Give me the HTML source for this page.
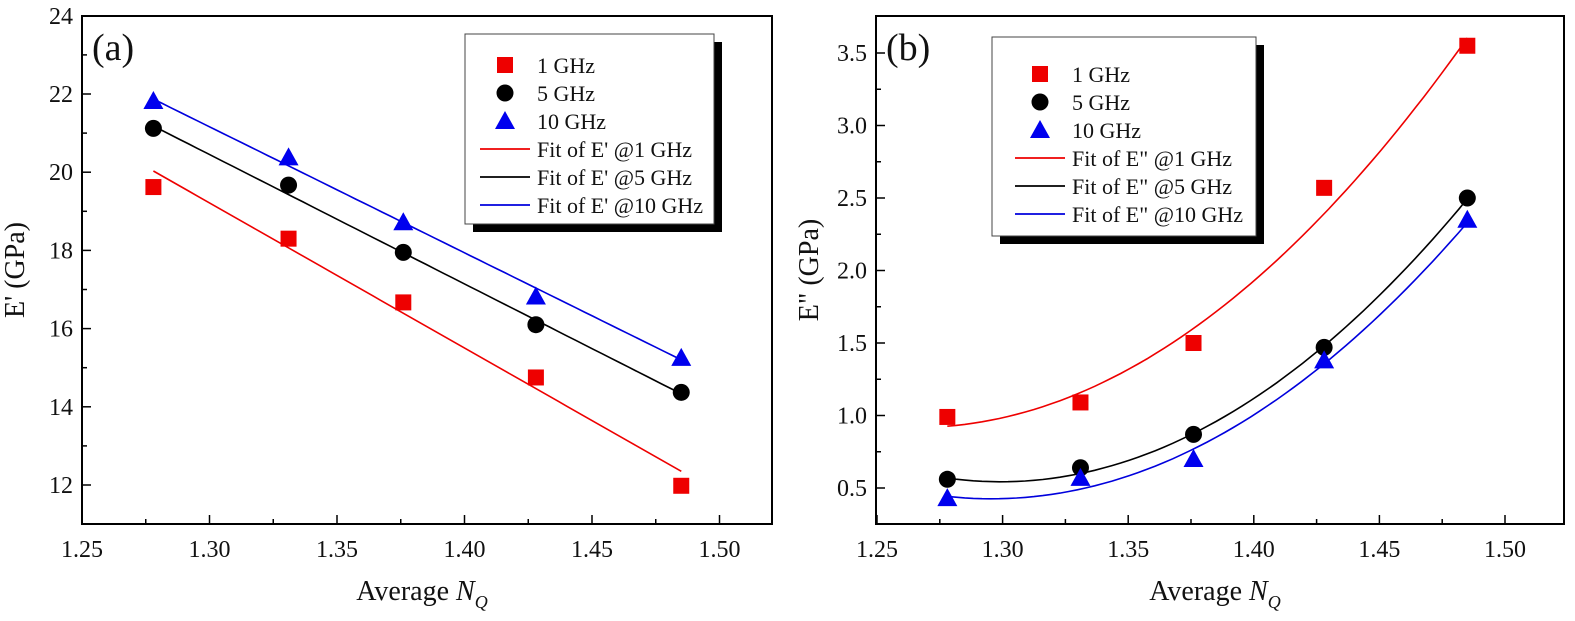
<!DOCTYPE html>
<html><head><meta charset="utf-8"><style>body{margin:0;background:#fff}svg{display:block}text{font-family:"Liberation Serif",serif;fill:#111}</style></head>
<body><svg id="s" width="1575" height="621" xmlns="http://www.w3.org/2000/svg"></svg>
<script>
const S=document.getElementById('s');let h='';
function P(o){
 const X=x=>o.x0+(x-1.25)/0.05*o.px, Y=y=>o.yb-(y-o.ymin)*o.py;
 h+=`<rect x="${o.L}" y="16" width="${o.R-o.L}" height="508" fill="none" stroke="#000" stroke-width="2"/>`;
 for(let i=0;i<=10;i++){const xv=1.25+i*0.025,x=X(xv);if(x<o.L-3||x>o.R)continue;const big=i%2==0;
  h+=`<line x1="${x}" y1="524" x2="${x}" y2="${524-(big?9:5)}" stroke="#000" stroke-width="1.5"/>`;
  if(big)h+=`<text x="${x}" y="557" font-size="24" text-anchor="middle">${xv.toFixed(2)}</text>`;}
 for(let v=o.ymin;v<=o.ymax+1e-9;v+=o.minor){const y=Y(v);if(y<14||y>524)continue;const k=Math.round((v-o.ymin)/o.minor);const big=k%2==0;
  h+=`<line x1="${o.L}" y1="${y}" x2="${o.L+(big?9:5)}" y2="${y}" stroke="#000" stroke-width="1.5"/>`;
  if(big&&v>=o.lab0)h+=`<text x="${o.L-9}" y="${y+8}" font-size="24" text-anchor="end">${v.toFixed(o.dec)}</text>`;}
 h+=`<text x="${(o.L+o.R)/2-5}" y="600" font-size="28" text-anchor="middle">Average <tspan font-style="italic">N</tspan><tspan font-style="italic" font-size="18" dy="8">Q</tspan></text>`;
 h+=`<text transform="translate(${o.L-58},270) rotate(-90)" font-size="28" text-anchor="middle">${o.yl}</text>`;
 h+=`<text x="${o.L+10}" y="60" font-size="38">${o.tag}</text>`;
 const xs=[1.278,1.331,1.376,1.428,1.485],cols=['#e00','#000','#00d'];
 o.fits.forEach((f,i)=>{let d='';for(let t=0;t<=60;t++){const xv=1.278+t*(0.207/60);d+=(t?'L':'M')+X(xv).toFixed(1)+','+Y(f(xv)).toFixed(1);}
  h+=`<path d="${d}" fill="none" stroke="${cols[i]}" stroke-width="1.6"/>`;});
 o.data.forEach((ds,i)=>ds.forEach((v,j)=>{h+=mk(i,X(xs[j]),Y(v));}));
 const g=o.lg;h+=`<rect x="${g.x+8}" y="${g.y+8}" width="${g.w}" height="${g.h}" fill="#000"/><rect x="${g.x}" y="${g.y}" width="${g.w}" height="${g.h}" fill="#fff" stroke="#444" stroke-width="1"/>`;
 const labs=['1 GHz','5 GHz','10 GHz'].concat([1,5,10].map(n=>`Fit of ${o.e} @${n} GHz`));
 labs.forEach((t,i)=>{const y=g.ey+i*28;if(i<3)h+=mk(i,g.mx,y);else h+=`<line x1="${g.mx-25}" y1="${y}" x2="${g.mx+25}" y2="${y}" stroke="${cols[i-3]}" stroke-width="1.8"/>`;
  h+=`<text x="${g.mx+32}" y="${y+8}" font-size="22">${t}</text>`;});
}
function mk(i,x,y){if(i==0)return `<rect x="${x-8}" y="${y-8}" width="16" height="16" fill="#e00"/>`;
 if(i==1)return `<circle cx="${x}" cy="${y}" r="8.5" fill="#000"/>`;
 return `<polygon points="${x},${y-10} ${x+10},${y+8} ${x-10},${y+8}" fill="#00e"/>`;}
function quad(xs,ys){let n=xs.length,S=[0,0,0,0,0],T=[0,0,0];for(let k=0;k<n;k++){const x=xs[k]-1.38;for(let p=0;p<5;p++)S[p]+=x**p;for(let p=0;p<3;p++)T[p]+=ys[k]*x**p;}
 const A=[[S[0],S[1],S[2],T[0]],[S[1],S[2],S[3],T[1]],[S[2],S[3],S[4],T[2]]];
 for(let i=0;i<3;i++){for(let j=i+1;j<3;j++){const f=A[j][i]/A[i][i];for(let k=i;k<4;k++)A[j][k]-=f*A[i][k];}}
 const c=[0,0,0];for(let i=2;i>=0;i--){let s=A[i][3];for(let k=i+1;k<3;k++)s-=A[i][k]*c[k];c[i]=s/A[i][i];}
 return x=>{const t=x-1.38;return c[0]+c[1]*t+c[2]*t*t;};}
const lin=(x1,y1,x2,y2)=>x=>y1+(x-x1)*(y2-y1)/(x2-x1);
P({L:82,R:772,x0:82,px:127.5,yb:485,ymin:12,ymax:24,py:39.1,minor:1,lab0:12,dec:0,yl:"E' (GPa)",tag:"(a)",e:"E'",
 fits:[lin(1.278,20.03,1.485,12.35),lin(1.278,21.18,1.485,14.33),lin(1.278,21.87,1.485,15.2)],
 data:[[19.62,18.3,16.67,14.75,11.98],[21.12,19.67,17.95,16.1,14.37],[21.82,20.38,18.72,16.82,15.25]],
 lg:{x:465,y:34,w:249,h:190,ey:65,mx:505}});
const xs=[1.278,1.331,1.376,1.428,1.485];
P({L:876,R:1564,x0:877,px:125.6,yb:488,ymin:0.5,ymax:3.5,py:145,minor:0.25,lab0:0.5,dec:1,yl:'E" (GPa)',tag:"(b)",e:'E"',
 fits:[quad([1.278,1.331,1.376,1.428,1.485],[0.93,1.15,1.6,2.4,3.6]),quad(xs,[0.56,0.62,0.87,1.47,2.5]),quad(xs,[0.44,0.5,0.76,1.36,2.33])],
 data:[[0.99,1.09,1.5,2.57,3.55],[0.56,0.64,0.87,1.47,2.5],[0.43,0.57,0.7,1.38,2.35]],
 lg:{x:992,y:37,w:264,h:199,ey:74,mx:1040}});
S.innerHTML=h;
</script></body></html>
